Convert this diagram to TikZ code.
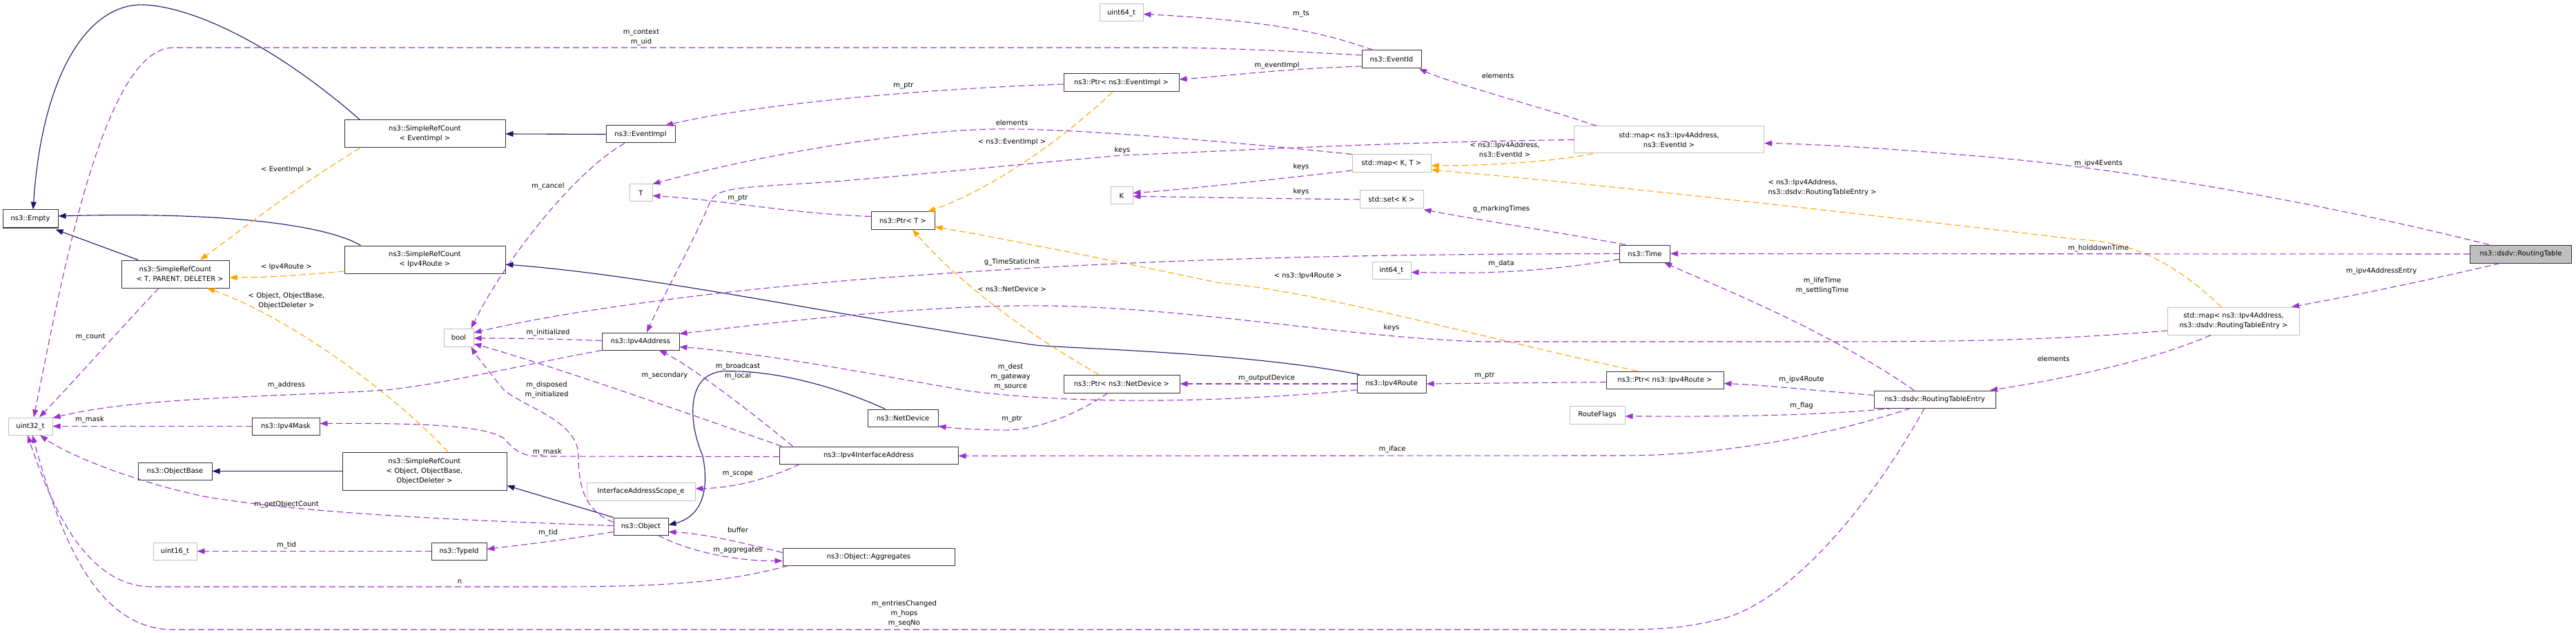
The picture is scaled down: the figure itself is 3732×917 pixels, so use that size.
\documentclass[tikz,border=0pt]{standalone}
\usepackage{fontspec}
\setmainfont{DejaVu Sans}
\usetikzlibrary{arrows.meta}
\definecolor{mem}{HTML}{9A32CD}
\definecolor{inhc}{HTML}{191970}
\definecolor{tplc}{HTML}{FFA500}
\tikzset{
 box/.style={draw=black!80,line width=1pt,fill=white,inner sep=0pt,align=center,font=\fontsize{10}{14}\selectfont},
 gbox/.style={box,draw=black!25},
 lbl/.style={inner sep=0pt,align=center,font=\fontsize{10}{14}\selectfont},
 memb/.style={draw=mem,line width=1.1pt,dash pattern=on 9pt off 5pt,-{Triangle[length=11pt,width=8pt,fill=mem,sep=0pt]}},
 inh/.style={draw=inhc,line width=1.1pt,-{Triangle[length=11pt,width=8pt,fill=inhc]}},
 tpl/.style={draw=tplc,line width=1.1pt,dash pattern=on 9pt off 5pt,-{Triangle[length=11pt,width=8pt,fill=tplc]}},
}
\begin{document}
\begin{tikzpicture}[x=1pt,y=1pt]
\useasboundingbox (0,0) rectangle (3732,-917);
% nodes
\node[box,minimum width=80,minimum height=26] (Empty) at (44,-317) {ns3::Empty};
\node[box,minimum width=156,minimum height=40] (SRCTPD) at (254,-397) {ns3::SimpleRefCount\\\,\,\,\,\,\,\,\,< T, PARENT, DELETER >};
\node[box,minimum width=233,minimum height=40] (SRCEI) at (615.5,-194) {ns3::SimpleRefCount\\< EventImpl >};
\node[box,minimum width=233,minimum height=40] (SRCIR) at (615.5,-376) {ns3::SimpleRefCount\\< Ipv4Route >};
\node[box,minimum width=100,minimum height=25] (EventImpl) at (928,-194.5) {ns3::EventImpl};
\node[gbox,minimum width=33,minimum height=25] (T) at (928.5,-279.5) {T};
\node[gbox,minimum width=64,minimum height=25] (uint32) at (44,-617.5) {uint32\_t};
\node[box,minimum width=98,minimum height=25] (Ipv4Mask) at (414,-617.5) {ns3::Ipv4Mask};
\node[box,minimum width=107,minimum height=25] (ObjectBase) at (253.5,-682.5) {ns3::ObjectBase};
\node[gbox,minimum width=63,minimum height=25] (uint16) at (253.5,-798.5) {uint16\_t};
\node[box,minimum width=238,minimum height=55] (SRCOOO) at (615,-682.5) {ns3::SimpleRefCount\\< Object, ObjectBase,\\ObjectDeleter >};
\node[gbox,minimum width=43,minimum height=26] (bool) at (664.5,-489) {bool};
\node[box,minimum width=112,minimum height=25] (Ipv4Address) at (928,-494.5) {ns3::Ipv4Address};
\node[gbox,minimum width=157,minimum height=26] (Scope) at (928.5,-712) {InterfaceAddressScope\_e};
\node[box,minimum width=79,minimum height=25] (Object) at (928.5,-762.5) {ns3::Object};
\node[box,minimum width=80,minimum height=25] (TypeId) at (665,-798.5) {ns3::TypeId};
\node[box,minimum width=259,minimum height=25] (IIA) at (1258.5,-659.5) {ns3::Ipv4InterfaceAddress};
\node[box,minimum width=249,minimum height=25] (Aggregates) at (1258.5,-806.5) {ns3::Object::Aggregates};
\node[box,minimum width=102,minimum height=25] (NetDevice) at (1308,-605.5) {ns3::NetDevice};
\node[box,minimum width=168,minimum height=26] (PtrND) at (1625,-556) {ns3::Ptr< ns3::NetDevice >};
\node[box,minimum width=167,minimum height=26] (PtrEI) at (1624.5,-120) {ns3::Ptr< ns3::EventImpl >};
\node[box,minimum width=92,minimum height=25] (PtrT) at (1308,-319.5) {ns3::Ptr< T >};
\node[gbox,minimum width=32,minimum height=25] (K) at (1625,-283.5) {K};
\node[gbox,minimum width=63,minimum height=25] (uint64) at (1624.5,-18.5) {uint64\_t};
\node[box,minimum width=86,minimum height=26] (EventId) at (2016,-86) {ns3::EventId};
\node[gbox,minimum width=114,minimum height=26] (mapKT) at (2016,-237) {std::map< K, T >};
\node[gbox,minimum width=92,minimum height=26] (setK) at (2016,-289) {std::set< K >};
\node[gbox,minimum width=275,minimum height=39] (mapEI) at (2418,-202.5) {std::map< ns3::Ipv4Address,\\ns3::EventId >};
\node[box,minimum width=73,minimum height=25] (Time) at (2383,-367.5) {ns3::Time};
\node[gbox,minimum width=56,minimum height=25] (int64) at (2016,-391.5) {int64\_t};
\node[box,minimum width=100,minimum height=26] (Ipv4Route) at (2016,-556) {ns3::Ipv4Route};
\node[box,minimum width=170,minimum height=25] (PtrIR) at (2412,-550.5) {ns3::Ptr< ns3::Ipv4Route >};
\node[gbox,minimum width=80,minimum height=26] (RouteFlags) at (2314,-601) {RouteFlags};
\node[box,minimum width=176,minimum height=25] (RTE) at (2803,-578.5) {ns3::dsdv::RoutingTableEntry};
\node[gbox,minimum width=191,minimum height=40] (mapRTE) at (3236,-465) {std::map< ns3::Ipv4Address,\\ns3::dsdv::RoutingTableEntry >};
\node[box,fill=black!25,minimum width=147,minimum height=26] (RT) at (3652,-368) {ns3::dsdv::RoutingTable};

% inheritance
\draw[inh] ([xshift=23]SRCEI.north west) .. controls (380,-50) and (260,-5) .. (200,-7) .. controls (120,-12) and (60,-120) .. ([xshift=4]Empty.north);
\draw[inh] ([xshift=24]SRCIR.north west) .. controls (480,-330) and (350,-306) .. ([yshift=4]Empty.east);
\draw[inh] ([xshift=-54]SRCTPD.north) -- ([xshift=-4,yshift=-2]Empty.south east);
\draw[inh] (EventImpl.west) -- (SRCEI.east);
\draw[inh] ([xshift=4]Ipv4Route.north west) .. controls (1800,-510) and (1550,-505) .. (1500,-500) .. controls (1200,-455) and (950,-400) .. ([yshift=-7]SRCIR.east);
\draw[inh] ([xshift=26]NetDevice.north west) .. controls (1200,-555) and (1110,-535) .. (1045,-538) .. controls (990,-545) and (1000,-620) .. (1018,-660) .. controls (1030,-720) and (1010,-750) .. ([yshift=2]Object.east);
\draw[inh] (Object.north west) -- ([yshift=-21]SRCOOO.east);
\draw[inh] (SRCOOO.west) -- (ObjectBase.east);

% templates
\draw[tpl] ([xshift=23]SRCEI.south west) .. controls (430,-270) and (340,-340) .. ([xshift=36]SRCTPD.north);
\node[lbl] (lt1) at (415,-246) {< EventImpl >};
\draw[tpl] ([yshift=-17]SRCIR.west) .. controls (420,-400) and (380,-402) .. ([yshift=-5]SRCTPD.east);
\node[lbl] (lt2) at (415,-387) {< Ipv4Route >};
\draw[tpl] ([xshift=34]SRCOOO.north) .. controls (570,-570) and (420,-460) .. ([xshift=46]SRCTPD.south);
\node[lbl] (lt3) at (415,-436) {< Object, ObjectBase,\\ObjectDeleter >};
\draw[tpl] ([xshift=-13]PtrEI.south) .. controls (1520,-220) and (1420,-280) .. ([xshift=36]PtrT.north);
\node[lbl] (lt4) at (1466,-206) {< ns3::EventImpl >};
\draw[tpl] ([xshift=-33]PtrND.north) .. controls (1480,-480) and (1380,-400) .. ([xshift=14]PtrT.south);
\node[lbl] (lt5) at (1466,-419) {< ns3::NetDevice >};
\draw[tpl] ([xshift=-40]PtrIR.north) .. controls (2150,-490) and (1900,-420) .. (1767,-410) .. controls (1600,-375) and (1450,-345) .. ([yshift=-9]PtrT.east);
\node[lbl] (lt6) at (1895,-400) {< ns3::Ipv4Route >};
\draw[tpl] ([xshift=-110]mapEI.south) .. controls (2230,-238) and (2120,-240) .. ([yshift=-3]mapKT.east);
\node[lbl] (lt7) at (2180,-217) {< ns3::Ipv4Address,\\ns3::EventId >};
\draw[tpl] ([xshift=-18]mapRTE.north) .. controls (3160,-390) and (3100,-350) .. (3011,-347) .. controls (2700,-310) and (2300,-265) .. ([yshift=-9]mapKT.east);
\node[lbl,align=left] (lt8) at (2640,-272) {< ns3::Ipv4Address,\\ns3::dsdv::RoutingTableEntry >};

% members
\draw[memb] ([yshift=6]EventId.west) .. controls (1900,-76) and (1800,-70) .. (1700,-69) -- (250,-69) .. controls (150,-72) and (90,-400) .. ([xshift=5]uint32.north);
\node[lbl] (l1) at (929,-54) {m\_context\\m\_uid};
\draw[memb] ([yshift=-2]PtrEI.west) .. controls (1350,-128) and (1100,-150) .. ([xshift=36]EventImpl.north);
\node[lbl] (l2) at (1309,-124) {m\_ptr};
\draw[memb] ([yshift=-10]EventId.west) .. controls (1850,-100) and (1780,-110) .. ([yshift=5]PtrEI.east);
\node[lbl] (l3) at (1850,-95) {m\_eventImpl};
\draw[memb] ([xshift=-27]EventId.north) .. controls (1900,-40) and (1800,-28) .. ([yshift=-2]uint64.east);
\node[lbl] (l4) at (1885,-20) {m\_ts};
\draw[memb] ([xshift=-105]mapEI.north) .. controls (2250,-160) and (2100,-120) .. ([xshift=40]EventId.south);
\node[lbl] (l5) at (2170,-110) {elements};
\draw[memb] (mapKT.north west) .. controls (1800,-207) and (1550,-185) .. (1441,-187) .. controls (1300,-190) and (1100,-225) .. (T.north east);
\node[lbl] (l6) at (1466,-178) {elements};
\draw[memb] (mapEI.west) .. controls (2000,-206) and (1800,-218) .. (1626,-225) .. controls (1450,-240) and (1250,-262) .. (1145,-267) .. controls (1060,-272) and (1040,-275) .. (1030,-290) .. controls (1000,-360) and (960,-430) .. ([xshift=9]Ipv4Address.north);
\node[lbl] (l6b) at (1626,-218) {keys};
\draw[memb] ([yshift=6]PtrT.west) .. controls (1150,-310) and (1050,-290) .. ([yshift=-4]T.east);
\node[lbl] (l7) at (1069,-287) {m\_ptr};
\draw[memb] ([yshift=-10]mapKT.west) .. controls (1800,-265) and (1700,-276) .. ([yshift=4]K.east);
\node[lbl] (l8) at (1885,-242) {keys};
\draw[memb] (setK.west) .. controls (1800,-287) and (1700,-285) .. ([yshift=-1]K.east);
\node[lbl] (l9) at (1885,-278) {keys};
\draw[memb] ([xshift=-28]Time.north) .. controls (2250,-335) and (2120,-315) .. ([yshift=-1]setK.south east);
\node[lbl] (l10) at (2175,-303) {g\_markingTimes};
\draw[memb] ([yshift=-8]Time.west) .. controls (2200,-400) and (2100,-395) .. ([yshift=-3]int64.east);
\node[lbl] (l11) at (2175,-382) {m\_data};
\draw[memb] (Time.west) .. controls (1900,-368) and (1600,-378) .. (1244,-405) .. controls (1000,-425) and (800,-455) .. ([yshift=7]bool.east);
\node[lbl] (l12) at (1466,-380) {g\_TimeStaticInit};
\draw[memb] ([xshift=-23]EventImpl.south) .. controls (830,-250) and (730,-380) .. ([xshift=18]bool.north);
\node[lbl] (l13) at (794,-270) {m\_cancel};
\draw[memb] ([yshift=1]Ipv4Address.west) .. controls (800,-491) and (750,-490) .. ([yshift=-1]bool.east);
\node[lbl] (l14) at (794,-482) {m\_initialized};
\draw[memb] ([xshift=4]IIA.north west) .. controls (1000,-600) and (800,-530) .. ([yshift=-9]bool.east);
\node[lbl] (l15) at (963,-544) {m\_secondary};
\draw[memb] ([yshift=6]Object.west) .. controls (845,-740) and (838,-700) .. (838,-660) .. controls (838,-610) and (760,-590) .. (730,-565) .. controls (710,-540) and (690,-515) .. ([xshift=18]bool.south);
\node[lbl] (l16) at (792,-565) {m\_disposed\\m\_initialized};
\draw[memb] (Ipv4Address.south west) .. controls (750,-530) and (650,-555) .. (560,-565) .. controls (400,-575) and (200,-575) .. ([yshift=12]uint32.east);
\node[lbl] (l17) at (415,-558) {m\_address};
\draw[memb] (Ipv4Mask.west) -- (uint32.east);
\node[lbl] (l18) at (130,-608) {m\_mask};
\draw[memb] ([yshift=-2]IIA.west) -- (780,-661) .. controls (750,-661) and (740,-645) .. (730,-635) .. controls (700,-615) and (600,-613) .. ([yshift=4]Ipv4Mask.east);
\node[lbl] (l19) at (793,-655) {m\_mask};
\draw[memb] ([xshift=20]IIA.north west) .. controls (1080,-590) and (1000,-530) .. ([xshift=27]Ipv4Address.south);
\node[lbl] (l20) at (1069,-538) {m\_broadcast\\m\_local};
\draw[memb] ([yshift=-9]Ipv4Route.west) .. controls (1750,-585) and (1550,-585) .. (1400,-566) .. controls (1200,-530) and (1100,-512) .. ([yshift=-8]Ipv4Address.east);
\node[lbl] (l21) at (1464,-546) {m\_dest\\m\_gateway\\m\_source};
\draw[memb] ([yshift=-14]mapRTE.west) .. controls (2950,-495) and (2800,-495) .. (2600,-495) -- (2150,-495) .. controls (1950,-490) and (1700,-440) .. (1477,-443) .. controls (1300,-445) and (1100,-470) .. ([yshift=11]Ipv4Address.east);
\node[lbl] (l22) at (2016,-475) {keys};
\draw[memb] (Ipv4Route.west) -- (PtrND.east);
\node[lbl] (l23) at (1835,-548) {m\_outputDevice};
\draw[memb] ([xshift=-20]PtrND.south) .. controls (1560,-600) and (1500,-625) .. (1450,-623) .. controls (1400,-622) and (1380,-620) .. ([yshift=-12]NetDevice.east);
\node[lbl] (l24) at (1466,-607) {m\_ptr};
\draw[memb] ([yshift=-3]PtrIR.west) -- (Ipv4Route.east);
\node[lbl] (l25) at (2151,-544) {m\_ptr};
\draw[memb] ([yshift=6]RTE.west) .. controls (2620,-565) and (2560,-558) .. ([yshift=-5]PtrIR.east);
\node[lbl] (l26) at (2610,-550) {m\_ipv4Route};
\draw[memb] ([xshift=-60]RTE.south) .. controls (2600,-605) and (2450,-603) .. ([yshift=-2]RouteFlags.east);
\node[lbl] (l27) at (2610,-588) {m\_flag};
\draw[memb] ([xshift=-35]RTE.south) .. controls (2650,-630) and (2500,-660) .. (2350,-660) -- ([yshift=-1]IIA.east);
\node[lbl] (l28) at (2017,-651) {m\_iface};
\draw[memb] ([xshift=-30]RTE.north) .. controls (2650,-480) and (2500,-420) .. ([xshift=28]Time.south);
\node[lbl] (l29) at (2640,-414) {m\_lifeTime\\m\_settlingTime};
\draw[memb] ([xshift=-15]RTE.south) .. controls (2700,-750) and (2580,-880) .. (2488,-898) .. controls (2440,-910) and (2400,-912) .. (2350,-912) -- (250,-912) .. controls (130,-912) and (80,-750) .. ([xshift=3]uint32.south);
\node[lbl] (l30) at (1310,-889) {m\_entriesChanged\\m\_hops\\m\_seqNo};
\draw[memb] ([xshift=-33]mapRTE.south) .. controls (3100,-530) and (2950,-555) .. ([xshift=80]RTE.north);
\node[lbl] (l31) at (2975,-520) {elements};
\draw[memb] ([xshift=-46]RT.north) .. controls (3350,-290) and (3050,-240) .. (2850,-225) .. controls (2700,-212) and (2600,-208) .. ([yshift=-5]mapEI.east);
\node[lbl] (l32) at (3040,-237) {m\_ipv4Events};
\draw[memb] (RT.west) -- (Time.east);
\node[lbl] (l33) at (3040,-360) {m\_holddownTime};
\draw[memb] ([xshift=-30]RT.south) .. controls (3500,-410) and (3400,-430) .. ([xshift=84]mapRTE.north);
\node[lbl] (l34) at (3450,-393) {m\_ipv4AddressEntry};
\draw[memb] ([xshift=-24]SRCTPD.south) .. controls (180,-470) and (100,-560) .. ([xshift=13]uint32.north);
\node[lbl] (l35) at (131,-488) {m\_count};
\draw[memb] ([yshift=1]Object.west) .. controls (700,-755) and (450,-745) .. (300,-720) .. controls (200,-700) and (100,-660) .. ([xshift=14]uint32.south);
\node[lbl] (l36) at (415,-731) {m\_getObjectCount};
\draw[memb] ([yshift=-8]Object.west) .. controls (800,-785) and (750,-790) .. ([yshift=3]TypeId.east);
\node[lbl] (l37) at (794,-772) {m\_tid};
\draw[memb] (TypeId.west) -- (uint16.east);
\node[lbl] (l38) at (415,-790) {m\_tid};
\draw[memb] ([xshift=25]Object.south) .. controls (1000,-800) and (1070,-813) .. ([yshift=-6]Aggregates.west);
\node[lbl] (l39) at (1069,-797) {m\_aggregates};
\draw[memb] ([yshift=6]Aggregates.west) .. controls (1070,-785) and (1020,-773) .. ([yshift=-8]Object.east);
\node[lbl] (l40) at (1069,-768) {buffer};
\draw[memb] ([xshift=8]Aggregates.south west) .. controls (1050,-845) and (950,-850) .. (800,-850) -- (220,-850) .. controls (120,-850) and (70,-720) .. ([xshift=-4]uint32.south);
\node[lbl] (l41) at (666,-843) {n};
\draw[memb] ([xshift=30]IIA.south west) .. controls (1100,-700) and (1050,-707) .. ([yshift=4]Scope.east);
\node[lbl] (l42) at (1069,-687) {m\_scope};
\end{tikzpicture}
\end{document}
